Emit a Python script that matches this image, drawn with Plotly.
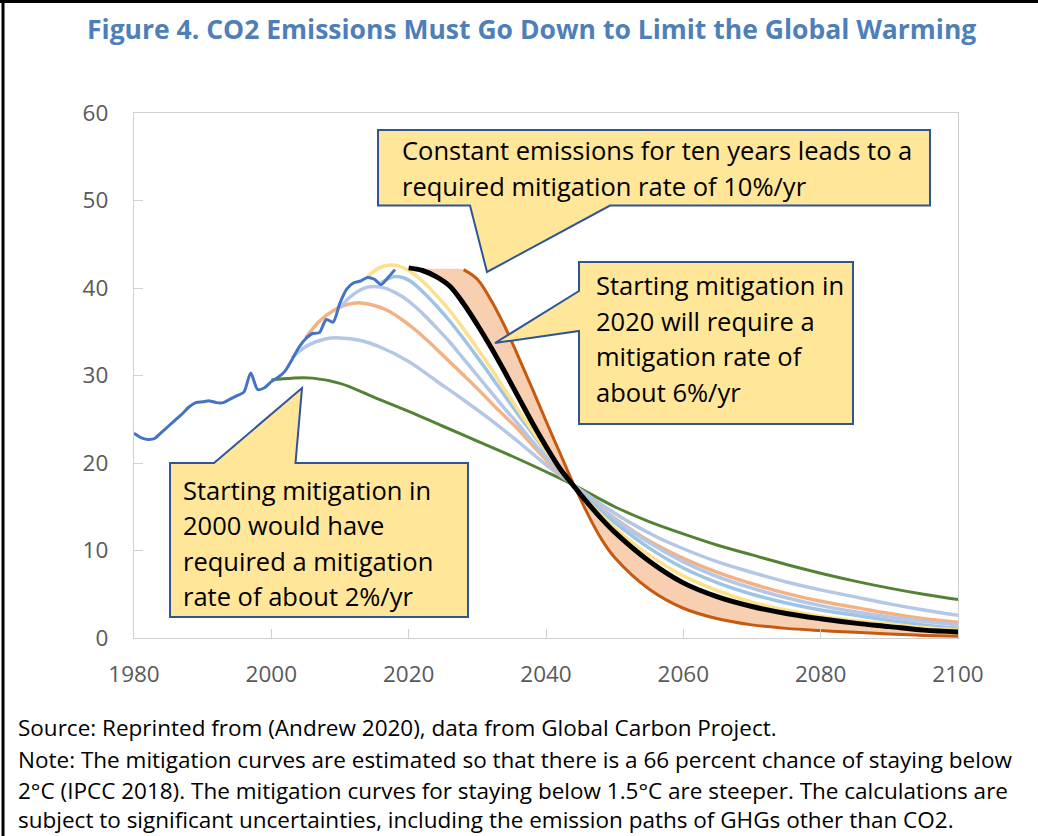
import plotly.graph_objects as go

# ---------------- data ----------------
hist_years = list(range(1980, 2019))
hist_vals = [23.4, 22.9, 22.7, 22.8, 23.5, 24.2, 24.9, 25.6, 26.4, 26.9,
             27.0, 27.1, 26.9, 26.9, 27.3, 27.7, 28.1, 30.3, 28.4, 28.6,
             29.3, 29.8, 30.5, 31.8, 33.2, 34.2, 34.8, 34.9, 36.4, 36.1,
             38.3, 39.9, 40.6, 40.8, 41.2, 41.0, 40.4, 41.2, 42.1]

green_years = [2000, 2003, 2006, 2010, 2015, 2020, 2025, 2030, 2035, 2040, 2044,
               2050, 2055, 2060, 2065, 2070, 2075, 2080, 2085, 2090, 2095, 2100]
green_vals = [29.5, 29.7, 29.7, 29.1, 27.5, 25.9, 24.2, 22.5, 20.8, 19.0, 17.5,
              15.0, 13.3, 11.9, 10.6, 9.5, 8.4, 7.4, 6.5, 5.7, 5.0, 4.4]

lb1_years = [2003, 2005, 2008, 2010, 2013, 2016, 2020, 2024, 2028, 2032, 2036, 2040,
             2044, 2048, 2052, 2056, 2060, 2065, 2070, 2075, 2080, 2085, 2090, 2095, 2100]
lb1_vals = [32.0, 33.3, 34.2, 34.3, 34.0, 33.2, 31.6, 29.4, 27.2, 24.9, 22.4, 19.8,
            17.5, 15.3, 13.3, 11.6, 10.2, 8.7, 7.5, 6.4, 5.5, 4.7, 3.9, 3.2, 2.6]

or1_years = [2005, 2007, 2009, 2011, 2013, 2015, 2017, 2019, 2021, 2023, 2025, 2027,
             2030, 2033, 2036, 2039, 2042, 2044, 2047, 2050, 2055, 2060, 2065, 2070,
             2075, 2080, 2085, 2090, 2095, 2100]
or1_vals = [34.3, 36.2, 37.4, 38.1, 38.3, 38.0, 37.4, 36.4, 35.2, 33.8, 32.3, 30.8,
            28.5, 26.1, 23.8, 21.2, 18.8, 17.5, 15.5, 13.7, 11.1, 9.1, 7.5, 6.2,
            5.1, 4.2, 3.5, 2.8, 2.2, 1.8]

lb2_years = [2010, 2012, 2014, 2016, 2018, 2020, 2022, 2024, 2026, 2028, 2030, 2032,
             2034, 2036, 2038, 2040, 2042, 2044, 2046, 2048, 2050, 2055, 2060, 2065,
             2070, 2075, 2080, 2085, 2090, 2095, 2100]
lb2_vals = [37.8, 39.3, 40.1, 40.1, 39.5, 38.5, 37.1, 35.5, 33.8, 31.9, 30.0, 28.1,
            26.2, 24.4, 22.5, 20.7, 19.0, 17.5, 16.1, 14.8, 13.6, 10.9, 8.7, 7.0,
            5.7, 4.6, 3.7, 3.0, 2.4, 1.9, 1.5]

mb_years = [2016, 2018, 2020, 2022, 2024, 2026, 2028, 2030, 2032, 2034, 2036, 2038,
            2040, 2042, 2044, 2046, 2048, 2050, 2055, 2060, 2065, 2070, 2075, 2080,
            2085, 2090, 2095, 2100]
mb_vals = [40.6, 41.3, 40.9, 39.6, 38.0, 36.2, 34.2, 32.1, 29.9, 27.7, 25.5, 23.4,
           21.3, 19.3, 17.5, 15.9, 14.5, 13.2, 10.3, 8.0, 6.3, 5.0, 4.0, 3.2,
           2.6, 2.0, 1.5, 1.1]

yel_years = [2014, 2016, 2018, 2020, 2022, 2024, 2026, 2028, 2030, 2032, 2034, 2036,
             2038, 2040, 2042, 2044, 2046, 2048, 2050, 2055, 2060, 2065, 2070, 2075,
             2080, 2085, 2090, 2095, 2100]
yel_vals = [41.3, 42.4, 42.6, 42.0, 40.8, 39.2, 37.4, 35.3, 33.1, 30.8, 28.4, 26.0,
            23.7, 21.4, 19.3, 17.4, 15.7, 14.1, 12.6, 9.5, 7.1, 5.4, 4.1, 3.2,
            2.5, 2.0, 1.6, 1.2, 0.9]

blk_years = [2020, 2022, 2024, 2026, 2028, 2030, 2032, 2034, 2036, 2038, 2040, 2042,
             2044, 2046, 2048, 2050, 2055, 2060, 2065, 2070, 2075, 2080, 2085, 2090,
             2095, 2100]
blk_vals = [42.3, 42.0, 41.3, 40.2, 38.2, 35.8, 33.2, 30.4, 27.5, 24.6, 21.9, 19.4,
            17.4, 15.5, 13.7, 12.1, 8.8, 6.3, 4.7, 3.6, 2.8, 2.2, 1.7, 1.3,
            0.9, 0.7]

dor_years = [2020, 2022, 2024, 2026, 2028, 2030, 2032, 2034, 2036, 2038, 2040, 2042,
             2044, 2046, 2048, 2050, 2055, 2060, 2065, 2070, 2075, 2080, 2085, 2090,
             2095, 2100]
dor_vals = [42.2, 42.2, 42.2, 42.2, 42.1, 41.0, 38.6, 35.6, 32.1, 28.5, 24.8, 21.2,
            17.6, 14.3, 11.4, 9.2, 5.6, 3.4, 2.2, 1.5, 1.1, 0.85, 0.65, 0.45,
            0.3, 0.2]

y_ticks = [0, 10, 20, 30, 40, 50, 60]
x_ticks = [1980, 2000, 2020, 2040, 2060, 2080, 2100]

title_text = "Figure 4. CO2 Emissions Must Go Down to Limit the Global Warming"
box1_lines = ["Constant emissions for ten years leads to a",
              "required mitigation rate of 10%/yr"]
box2_lines = ["Starting mitigation in", "2020 will require a",
              "mitigation rate of", "about 6%/yr"]
box3_lines = ["Starting mitigation in", "2000 would have",
              "required a mitigation", "rate of about 2%/yr"]
foot_lines = [
    "Source: Reprinted from (Andrew 2020), data from Global Carbon Project.",
    "Note: The mitigation curves are estimated so that there is a 66 percent chance of staying below",
    "2°C (IPCC 2018). The mitigation curves for staying below 1.5°C are steeper. The calculations are",
    "subject to significant uncertainties, including the emission paths of GHGs other than CO2.",
]

# ---------------- layout helpers ----------------
W, H = 1038, 836
L, R, T, B = 134, 80, 113, 198
PW, PH = W - L - R, H - T - B
FONT = "Open Sans"


def px(x):
    return (x - L) / PW


def py(y):
    return (H - B - y) / PH


def path(points):
    return "M " + " L ".join(f"{px(a):.5f},{py(b):.5f}" for a, b in points) + " Z"


fig = go.Figure()


def line(xs, ys, color, width, smooth=1.0):
    fig.add_trace(go.Scatter(x=xs, y=ys, mode="lines",
                             line=dict(color=color, width=width, shape="spline", smoothing=smooth),
                             hoverinfo="skip", showlegend=False))


line(green_years, green_vals, "#548235", 3)
line(lb1_years, lb1_vals, "#B4C7E7", 3.5)
line(or1_years, or1_vals, "#F4B183", 3.5)
line(lb2_years, lb2_vals, "#B4C7E7", 3.5)
line(mb_years, mb_vals, "#9DC3E6", 3.5)
line(yel_years, yel_vals, "#FFE08A", 3.5)

# band between black and dark orange curves
fig.add_trace(go.Scatter(x=blk_years, y=blk_vals, mode="lines",
                         line=dict(color="rgba(0,0,0,0)", width=0, shape="spline"),
                         hoverinfo="skip", showlegend=False))
fig.add_trace(go.Scatter(x=dor_years, y=dor_vals, mode="lines", fill="tonexty",
                         fillcolor="#F9CFB2",
                         line=dict(color="rgba(0,0,0,0)", width=0, shape="spline"),
                         hoverinfo="skip", showlegend=False))
line(dor_years[4:], dor_vals[4:], "#C55A11", 3)
line(blk_years, blk_vals, "#000000", 5)
line(hist_years, hist_vals, "#4472C4", 3, 0.7)

shapes = []
# outer frame (top and left)
shapes.append(dict(type="line", xref="paper", yref="paper", x0=px(0), x1=px(W), y0=py(1.5), y1=py(1.5),
                   line=dict(color="black", width=3)))
shapes.append(dict(type="line", xref="paper", yref="paper", x0=px(3), x1=px(3), y0=py(0), y1=py(H),
                   line=dict(color="black", width=3)))

box_style = dict(type="path", xref="paper", yref="paper", fillcolor="#FFE699",
                 line=dict(color="#2F5597", width=2), layer="above")
shapes.append(dict(path=path([(378, 130), (930, 130), (930, 205.5), (610, 205.5),
                              (487, 272), (470, 205.5), (378, 205.5)]), **box_style))
shapes.append(dict(path=path([(579, 262), (853, 262), (853, 424), (579, 424),
                              (579, 331), (495, 343), (579, 291)]), **box_style))
shapes.append(dict(path=path([(170, 463), (214, 463), (302, 388), (295.5, 463),
                              (468, 463), (468, 617), (170, 617)]), **box_style))

annotations = []


def text(x, y, s, size=25.5, color="black", bold=False, xanchor="left"):
    annotations.append(dict(x=px(x), y=py(y), xref="paper", yref="paper",
                            text=(f"<b>{s}</b>" if bold else s),
                            showarrow=False, xanchor=xanchor, yanchor="middle",
                            font=dict(family=FONT, size=size, color=color)))


text(531, 29, title_text, size=26.5, color="#4E7FB8", bold=True, xanchor="center")
for i, s in enumerate(box1_lines):
    text(400, 150 + 36 * i, s)
for i, s in enumerate(box2_lines):
    text(594, 285 + 35.7 * i, s)
for i, s in enumerate(box3_lines):
    text(181, 490 + 35.3 * i, s)
for s, yy in zip(foot_lines, [727, 759, 790, 819]):
    text(16, yy, s, size=22.5)

axis_common = dict(showline=True, mirror=True, linecolor="#D0D0D0", linewidth=1.3,
                   ticks="inside", ticklen=9, tickcolor="#D0D0D0", showgrid=False,
                   zeroline=False, tickfont=dict(family=FONT, size=22.5, color="#595959"))

fig.update_layout(
    width=W, height=H,
    margin=dict(l=L, r=R, t=T, b=B),
    paper_bgcolor="white", plot_bgcolor="white",
    showlegend=False,
    xaxis=dict(range=[1980, 2100], tickvals=x_ticks, ticklabelstandoff=16, **axis_common),
    yaxis=dict(range=[0, 60], tickvals=y_ticks, ticklabelstandoff=20, **axis_common),
    shapes=shapes, annotations=annotations,
)

fig.write_html("out.html", config={"displayModeBar": False},
               post_script="document.body.style.margin='0';document.body.style.overflow='hidden';")
